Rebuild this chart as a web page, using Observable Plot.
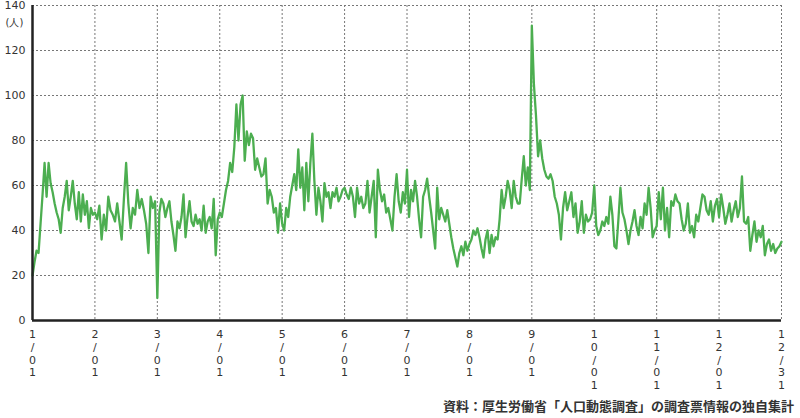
<!DOCTYPE html>
<html>
<head>
<meta charset="utf-8">
<script src="https://cdn.jsdelivr.net/npm/d3@7"></script>
<script src="https://cdn.jsdelivr.net/npm/@observablehq/plot@0.6"></script>
<style>
  html, body { margin: 0; padding: 0; background: #fff; }
  #wrap { position: relative; width: 800px; height: 418px; overflow: hidden; }
  #caption { position: absolute; right: 6px; bottom: 3px; font-family: "Noto Sans CJK JP", sans-serif; font-size: 13px; font-weight: bold; color: #333; white-space: nowrap; }
</style>
</head>
<body>
<div id="wrap"><div id="caption">資料：厚生労働省「人口動態調査」の調査票情報の独自集計</div></div>
<script>
const jan = [20,26,31,30,43,56,70,55,70,61,57,52,48,45,39,50,55,62,49,55,62,52,45,57,44,56,47,53,41,50,47];
const feb = [48,45,51,36,47,40,55,49,47,44,52,44,36,54,70,52,41,50,47,58,50,54,49,43,30,55,50,53];
const mar = [10,48,54,52,46,50,53,44,38,31,44,41,46,56,37,46,53,44,42,47,43,45,40,51,39,44,46,41,54,29,45];
const apr = [48,46,52,58,62,70,66,77,96,80,96,100,71,84,78,83,81,67,72,68,64,65,72,52,58,55,48,50,39,52];
const may = [43,40,50,46,55,60,65,58,76,59,68,49,70,53,70,83,62,47,59,53,44,61,55,57,50,57,55,59,53,55,58];
const jun = [59,56,54,59,55,46,59,52,55,50,52,62,48,55,62,37,67,58,53,56,48,50,45,40,55,65,53,48,57,52];
const jul = [67,46,58,53,62,55,45,37,55,58,63,55,48,40,32,59,45,50,47,44,49,43,37,32,28,24,30,33,29,35,31];
const aug = [34,36,40,38,41,37,32,28,36,40,30,38,33,37,36,45,58,50,55,62,58,50,62,55,52,52,63,73,60,68,58];
const sep = [131,105,91,73,80,72,67,64,63,65,62,55,52,47,36,50,57,49,53,57,46,52,39,44,53,39,47,44,45,48];
const oct = [60,42,38,40,44,42,46,43,55,47,33,32,45,59,48,45,40,34,40,44,49,42,38,46,41,52,47,59,50,37,40];
const nov = [42,57,45,59,40,50,37,53,51,56,53,52,45,40,43,52,39,42,37,47,44,50,56,55,49,47,53,44,51,54];
const dec = [46,56,50,43,47,52,44,49,53,46,50,64,44,43,46,31,38,44,35,40,37,42,29,34,36,31,34,30,32,33,35];

const tickLabels = ["1/01","2/01","3/01","4/01","5/01","6/01","7/01","8/01","9/01","10/01","11/01","12/01","12/31"];
const yTicks = [0,20,40,60,80,100,120,140];
const yUnit = "(人)";
const year = 2021;

const W = 800, H = 418, ML = 32, MR = 19, MT = 5, MB = 98;

const months = [jan,feb,mar,apr,may,jun,jul,aug,sep,oct,nov,dec];
const data = months.flatMap((vals, m) => vals.map((v, i) => ({date: new Date(Date.UTC(year, m, i + 1)), value: v})));
const tickDates = tickLabels.map(s => { const [m, d] = s.split("/").map(Number); return new Date(Date.UTC(year, m - 1, d)); });
const labelOf = new Map(tickDates.map((d, i) => [+d, tickLabels[i]]));
const xRange = tickDates.map((d, i) => ML + i * (W - ML - MR) / (tickDates.length - 1));

const chart = Plot.plot({
  width: W,
  height: H,
  marginLeft: ML,
  marginRight: MR,
  marginTop: MT,
  marginBottom: MB,
  style: {fontFamily: "'DejaVu Sans', sans-serif", fontSize: "11px", color: "#333", overflow: "visible"},
  x: {type: "utc", domain: tickDates, range: xRange},
  y: {domain: [0, 140]},
  marks: [
    Plot.gridY(yTicks, {stroke: "#777", strokeOpacity: 1, strokeDasharray: "2,2"}),
    Plot.gridX(tickDates, {stroke: "#777", strokeOpacity: 1, strokeDasharray: "2,2"}),
    Plot.axisY(yTicks, {tickSize: 0, tickPadding: 7, label: null, fill: "#333", fontSize: 11}),
    Plot.axisX(tickDates, {tickSize: 0, tickPadding: 9, label: null, fill: "#333", fontSize: 11, lineHeight: 1.15,
      tickFormat: d => labelOf.get(+d).split("").join("\n")}),
    Plot.text([yUnit], {frameAnchor: "top-left", text: d => d, dx: -18, dy: 13, fill: "#333", fontSize: 10, textAnchor: "middle"}),
    Plot.line(data, {x: "date", y: "value", stroke: "#4cae50", strokeWidth: 2.3}),
    Plot.ruleX([tickDates[0]], {stroke: "#222", strokeWidth: 2.5}),
    Plot.ruleY([0], {stroke: "#222", strokeWidth: 2.5})
  ]
});
document.getElementById("wrap").prepend(chart);
</script>
</body>
</html>
